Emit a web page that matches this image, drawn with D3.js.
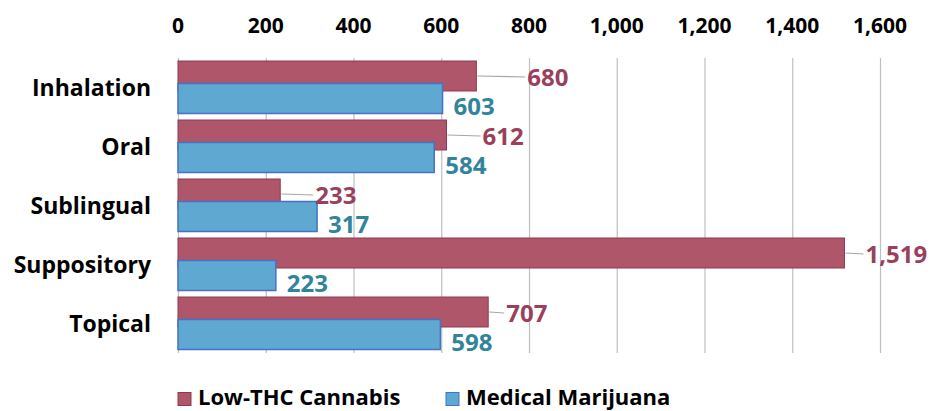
<!DOCTYPE html>
<html>
<head>
<meta charset="utf-8">
<script src="https://cdn.jsdelivr.net/npm/d3@7"></script>
<style>
  body { margin: 0; background: #fff; }
  text { font-family: "Open Sans", sans-serif; font-weight: bold; }
</style>
</head>
<body>
<div id="chart"></div>
<script>
// chart data
var categories = ["Inhalation", "Oral", "Sublingual", "Suppository", "Topical"];
var lowThc = [680, 612, 233, 1519, 707];
var medical = [603, 584, 317, 223, 598];
var xTicks = [0, 200, 400, 600, 800, 1000, 1200, 1400, 1600];
var seriesNames = ["Low-THC Cannabis", "Medical Marijuana"];

// leader line lengths for the red labels (dragged labels in the original)
var redLabelDx = [51, 36, 35, 21, 18];

var svgWidth = 930;
var svgHeight = 411;

var colors = {
  redFill: "#b0566b",
  redStroke: "#8c3a50",
  redText: "#9a3f5c",
  blueFill: "#5fa8d2",
  blueStroke: "#4472c4",
  blueText: "#31849b",
  grid: "#bfbfbf"
};

var svg = d3.select("#chart")
  .append("svg")
  .attr("width", svgWidth)
  .attr("height", svgHeight);

// scales
var x = d3.scaleLinear()
  .domain([0, 1600])
  .range([178, 880]);

var y = d3.scaleBand()
  .domain(categories)
  .range([58, 353])
  .padding(0);

var bw = y.bandwidth();
var barH = 30;
var redOff = 3;
var blueOff = 25.5;

// gridlines
svg.append("g").selectAll("line")
  .data(xTicks)
  .enter()
  .append("line")
  .attr("x1", d => x(d) + 0.5)
  .attr("x2", d => x(d) + 0.5)
  .attr("y1", 58)
  .attr("y2", 353)
  .attr("stroke", colors.grid)
  .attr("stroke-width", 1.2);

// top tick labels
svg.append("g").selectAll("text")
  .data(xTicks)
  .enter()
  .append("text")
  .attr("x", d => x(d))
  .attr("y", 33)
  .attr("text-anchor", "middle")
  .attr("font-size", "21px")
  .attr("fill", "#000")
  .text(d => d3.format(",")(d));

// category labels
svg.append("g").selectAll("text")
  .data(categories)
  .enter()
  .append("text")
  .attr("x", 151)
  .attr("y", d => y(d) + bw / 2 + 8)
  .attr("text-anchor", "end")
  .attr("font-size", "23px")
  .attr("fill", "#000")
  .text(d => d);

// red bars
svg.append("g").selectAll("rect")
  .data(lowThc)
  .enter()
  .append("rect")
  .attr("x", x(0))
  .attr("y", (d, i) => y(categories[i]) + redOff)
  .attr("width", d => x(d) - x(0))
  .attr("height", barH)
  .attr("fill", colors.redFill)
  .attr("stroke", colors.redStroke)
  .attr("stroke-width", 1);

// blue bars on top
svg.append("g").selectAll("rect")
  .data(medical)
  .enter()
  .append("rect")
  .attr("x", x(0))
  .attr("y", (d, i) => y(categories[i]) + blueOff)
  .attr("width", d => x(d) - x(0))
  .attr("height", barH)
  .attr("fill", colors.blueFill)
  .attr("stroke", colors.blueStroke)
  .attr("stroke-width", 1.5);

// leader lines for red labels
svg.append("g").selectAll("line")
  .data(lowThc)
  .enter()
  .append("line")
  .attr("x1", d => x(d) + 1)
  .attr("x2", (d, i) => x(d) + redLabelDx[i] - 2)
  .attr("y1", (d, i) => y(categories[i]) + redOff + barH / 2)
  .attr("y2", (d, i) => y(categories[i]) + redOff + barH / 2 + 1)
  .attr("stroke", "#a6a6a6")
  .attr("stroke-width", 1.2);

// red value labels
svg.append("g").selectAll("text")
  .data(lowThc)
  .enter()
  .append("text")
  .attr("x", (d, i) => x(d) + redLabelDx[i])
  .attr("y", (d, i) => y(categories[i]) + redOff + 25)
  .attr("font-size", "24px")
  .attr("fill", colors.redText)
  .text(d => d3.format(",")(d));

// blue value labels
svg.append("g").selectAll("text")
  .data(medical)
  .enter()
  .append("text")
  .attr("x", d => x(d) + 11)
  .attr("y", (d, i) => y(categories[i]) + redOff + 54)
  .attr("font-size", "24px")
  .attr("fill", colors.blueText)
  .text(d => d3.format(",")(d));

// legend
var legend = svg.append("g");
var legendX = [178, 446];
var legendFill = [colors.redFill, colors.blueFill];
var legendStroke = [colors.redStroke, colors.blueStroke];

legend.selectAll("rect")
  .data(seriesNames)
  .enter()
  .append("rect")
  .attr("x", (d, i) => legendX[i])
  .attr("y", 392.5)
  .attr("width", 13)
  .attr("height", 13)
  .attr("fill", (d, i) => legendFill[i])
  .attr("stroke", (d, i) => legendStroke[i]);

legend.selectAll("text")
  .data(seriesNames)
  .enter()
  .append("text")
  .attr("x", (d, i) => legendX[i] + 20)
  .attr("y", 405)
  .attr("font-size", "22px")
  .attr("fill", "#000")
  .text(d => d);
</script>
</body>
</html>
